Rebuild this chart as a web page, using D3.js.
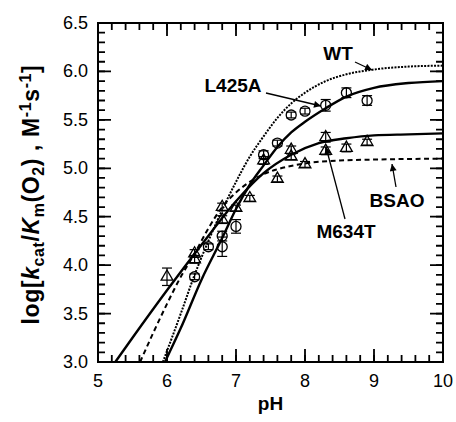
<!DOCTYPE html>
<meta charset="utf-8">
<script src="https://d3js.org/d3.v7.min.js"></script>
<style>
  body { margin: 0; background: #fff; }
  text { font-family: "Liberation Sans", Arial, Helvetica, sans-serif; }
</style>
<div id="my_dataviz"></div>
<script>

// fitted curves (pH, log value)
var wtCurve = [[5.94,3.0],[6.2,3.5],[6.4,3.9],[6.6,4.25],[6.8,4.57],[7.0,4.86],[7.2,5.12],[7.4,5.33],
  [7.6,5.52],[7.8,5.67],[8.0,5.78],[8.3,5.9],[8.6,5.97],[9.0,6.02],[9.5,6.05],[10,6.06]];
var l425aCurve = [[5.97,3.0],[6.2,3.35],[6.5,3.85],[6.8,4.28],[7.0,4.58],[7.2,4.83],[7.4,5.03],[7.6,5.22],
  [7.8,5.37],[8.0,5.48],[8.3,5.62],[8.6,5.74],[9.0,5.83],[9.5,5.88],[10,5.9]];
var m634tCurve = [[5.25,3.0],[5.5,3.25],[6.0,3.74],[6.5,4.21],[7.0,4.66],[7.4,4.95],[7.8,5.14],[8.2,5.26],
  [8.6,5.31],[9.0,5.34],[9.5,5.35],[10,5.36]];
var bsaoCurve = [[5.61,3.0],[5.8,3.3],[6.0,3.6],[6.2,3.88],[6.4,4.12],[6.6,4.38],[6.8,4.6],[7.0,4.75],
  [7.2,4.86],[7.4,4.94],[7.6,4.99],[8.0,5.05],[8.5,5.08],[9.0,5.09],[10,5.1]];

// measured points: pH, value, error
var l425aPts = [[6.4,3.88,0.03],[6.6,4.19,0.03],[6.8,4.3,0.05],[6.8,4.19,0.1],[7.0,4.4,0.07],
  [7.4,5.14,0.04],[7.6,5.26,0.03],[7.8,5.55,0.03],[8.0,5.59,0.03],[8.3,5.65,0.06],[8.6,5.78,0.05],[8.9,5.7,0.05]];
var m634tPts = [[6.0,3.88,0.09],[6.4,4.12,0.04],[6.4,4.06,0.04],[6.8,4.6,0.04],[6.8,4.47,0.04],[7.0,4.59,0.03],
  [7.2,4.69,0.03],[7.4,5.08,0.04],[7.6,4.89,0.03],[7.8,5.19,0.04],[7.8,5.12,0.03],[8.0,5.04,0.03],
  [8.3,5.32,0.05],[8.3,5.18,0.04],[8.6,5.21,0.04],[8.9,5.27,0.03]];

var xTicks = [5, 6, 7, 8, 9, 10];
var yTicks = [3.0, 3.5, 4.0, 4.5, 5.0, 5.5, 6.0, 6.5];

var width = 456, height = 422;
var margin = {top: 23, right: 13, bottom: 60, left: 98};

var svg = d3.select("#my_dataviz")
  .append("svg")
    .attr("width", width)
    .attr("height", height);

var x = d3.scaleLinear().domain([5, 10]).range([margin.left, width - margin.right]);
var y = d3.scaleLinear().domain([3, 6.5]).range([height - margin.bottom, margin.top]);

var x0 = x(5), x1 = x(10), y0 = y(3), y1 = y(6.5);

// minor tick values
var xMinor = d3.range(5, 10.001, 0.2).map(function(d){ return +d.toFixed(1); });
var yMinor = d3.range(3, 6.501, 0.1).map(function(d){ return +d.toFixed(1); });

// inward ticks on all four sides, drawn as one path per set
function tickPath(vals, axis, len) {
  return vals.map(function(d) {
    if (axis == "x") {
      return "M" + x(d) + "," + y0 + "v" + (-len) + "M" + x(d) + "," + y1 + "v" + len;
    }
    return "M" + x0 + "," + y(d) + "h" + len + "M" + x1 + "," + y(d) + "h" + (-len);
  }).join("");
}
svg.append("path").attr("d", tickPath(xMinor, "x", 7)).attr("stroke", "#000").attr("stroke-width", 1.8).attr("fill", "none");
svg.append("path").attr("d", tickPath(xTicks, "x", 13)).attr("stroke", "#000").attr("stroke-width", 1.8).attr("fill", "none");
svg.append("path").attr("d", tickPath(yMinor, "y", 7)).attr("stroke", "#000").attr("stroke-width", 1.8).attr("fill", "none");
svg.append("path").attr("d", tickPath(yTicks, "y", 13)).attr("stroke", "#000").attr("stroke-width", 1.8).attr("fill", "none");

// tick labels
svg.append("g").selectAll("text").data(xTicks).enter().append("text")
  .attr("x", function(d){ return x(d); }).attr("y", y0 + 25)
  .attr("text-anchor", "middle").attr("font-size", 18)
  .text(d3.format("d"));
svg.append("g").selectAll("text").data(yTicks).enter().append("text")
  .attr("x", x0 - 10).attr("y", function(d){ return y(d) + 6; })
  .attr("text-anchor", "end").attr("font-size", 18)
  .text(d3.format(".1f"));

// frame
svg.append("rect")
  .attr("x", x0).attr("y", y1)
  .attr("width", x1 - x0).attr("height", y0 - y1)
  .attr("fill", "none").attr("stroke", "#000").attr("stroke-width", 2);

// curves
var line = d3.line()
  .x(function(d){ return x(d[0]); })
  .y(function(d){ return y(d[1]); })
  .curve(d3.curveMonotoneX);

svg.append("path").datum(wtCurve).attr("d", line)
  .attr("fill", "none").attr("stroke", "#000").attr("stroke-width", 2).attr("stroke-dasharray", "2,1.3");
svg.append("path").datum(bsaoCurve).attr("d", line)
  .attr("fill", "none").attr("stroke", "#000").attr("stroke-width", 2).attr("stroke-dasharray", "5,3.5");
svg.append("path").datum(l425aCurve).attr("d", line)
  .attr("fill", "none").attr("stroke", "#000").attr("stroke-width", 2.4);
svg.append("path").datum(m634tCurve).attr("d", line)
  .attr("fill", "none").attr("stroke", "#000").attr("stroke-width", 2.4);

// error bars
function errorBars(data) {
  var g = svg.append("g").attr("stroke", "#000").attr("stroke-width", 1.2);
  g.selectAll(null).data(data).enter().append("line")
    .attr("x1", function(d){ return x(d[0]); }).attr("x2", function(d){ return x(d[0]); })
    .attr("y1", function(d){ return y(d[1] - d[2]); }).attr("y2", function(d){ return y(d[1] + d[2]); });
  g.selectAll(null).data(data).enter().append("line")
    .attr("x1", function(d){ return x(d[0]) - 5; }).attr("x2", function(d){ return x(d[0]) + 5; })
    .attr("y1", function(d){ return y(d[1] - d[2]); }).attr("y2", function(d){ return y(d[1] - d[2]); });
  g.selectAll(null).data(data).enter().append("line")
    .attr("x1", function(d){ return x(d[0]) - 5; }).attr("x2", function(d){ return x(d[0]) + 5; })
    .attr("y1", function(d){ return y(d[1] + d[2]); }).attr("y2", function(d){ return y(d[1] + d[2]); });
}
errorBars(l425aPts);
errorBars(m634tPts);

svg.append("g").selectAll("circle").data(l425aPts).enter().append("circle")
  .attr("cx", function(d){ return x(d[0]); })
  .attr("cy", function(d){ return y(d[1]); })
  .attr("r", 5)
  .attr("fill", "none").attr("stroke", "#000").attr("stroke-width", 1.3);

var tri = d3.symbol().type(d3.symbolTriangle).size(60);
svg.append("g").selectAll("path").data(m634tPts).enter().append("path")
  .attr("d", tri)
  .attr("transform", function(d){ return "translate(" + x(d[0]) + "," + y(d[1]) + ")"; })
  .attr("fill", "none").attr("stroke", "#000").attr("stroke-width", 1.3);

// labels with arrows
svg.append("defs").append("marker")
  .attr("id", "arrow").attr("viewBox", "0 0 10 10")
  .attr("refX", 10).attr("refY", 5)
  .attr("markerWidth", 9).attr("markerHeight", 7)
  .attr("markerUnits", "userSpaceOnUse")
  .attr("orient", "auto")
  .append("path").attr("d", "M0,0L10,5L0,10Z").attr("fill", "#000");

var labels = [
  {text: "WT", tx: 338, ty: 60, ax1: 355, ay1: 62, ax2: 372, ay2: 70},
  {text: "L425A", tx: 233, ty: 92, ax1: 266, ay1: 93, ax2: 321, ay2: 106},
  {text: "M634T", tx: 346, ty: 238, ax1: 345, ay1: 219, ax2: 326, ay2: 147},
  {text: "BSAO", tx: 397, ty: 207, ax1: 396, ay1: 187, ax2: 392, ay2: 164}
];
labels.forEach(function(l) {
  svg.append("text").attr("x", l.tx).attr("y", l.ty)
    .attr("text-anchor", "middle").attr("font-size", 19).attr("font-weight", "bold")
    .text(l.text);
  svg.append("line")
    .attr("x1", l.ax1).attr("y1", l.ay1).attr("x2", l.ax2).attr("y2", l.ay2)
    .attr("stroke", "#000").attr("stroke-width", 1.3)
    .attr("marker-end", "url(#arrow)");
});

// axis titles
svg.append("text")
  .attr("x", (x0 + x1) / 2).attr("y", 410)
  .attr("text-anchor", "middle").attr("font-size", 19).attr("font-weight", "bold")
  .text("pH");

var yt = svg.append("text")
  .attr("transform", "translate(39," + ((y0 + y1) / 2 + 2) + ") rotate(-90)")
  .attr("text-anchor", "middle").attr("font-size", 23).attr("font-weight", "bold")
  .attr("letter-spacing", 0.6);
yt.append("tspan").text("log[");
yt.append("tspan").attr("font-style", "italic").text("k");
yt.append("tspan").attr("font-size", 16).attr("dy", 5).text("cat");
yt.append("tspan").attr("dy", -5).text("/");
yt.append("tspan").attr("font-style", "italic").text("K");
yt.append("tspan").attr("font-size", 16).attr("dy", 5).text("m");
yt.append("tspan").attr("dy", -5).text("(O");
yt.append("tspan").attr("font-size", 16).attr("dy", 5).text("2");
yt.append("tspan").attr("dy", -5).text(") , M");
yt.append("tspan").attr("font-size", 16).attr("dy", -8).text("-1");
yt.append("tspan").attr("dy", 8).text("s");
yt.append("tspan").attr("font-size", 16).attr("dy", -8).text("-1");
yt.append("tspan").attr("dy", 8).text("]");

</script>
